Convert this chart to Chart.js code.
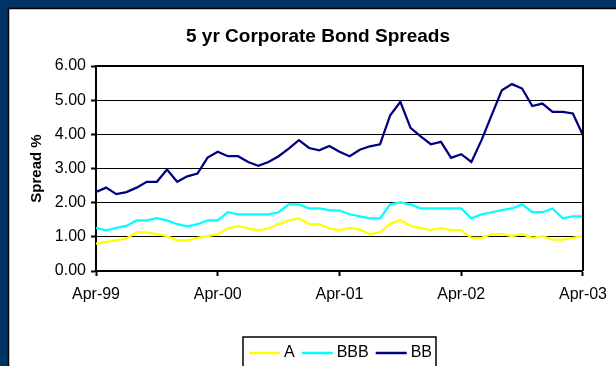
<!DOCTYPE html>
<html>
<head>
<meta charset="utf-8">
<style>
  html, body { margin: 0; padding: 0; background: #ffffff; }
  #wrap { position: relative; width: 616px; height: 366px; }
  canvas { display: block; }
</style>
<script src="https://cdn.jsdelivr.net/npm/chart.js@4.4.1/dist/chart.umd.min.js"></script>
</head>
<body>
<div id="wrap"><canvas id="c" width="616" height="366"></canvas></div>
<script>
// ---- data (monthly, Apr-99 .. Apr-03) ----
const months = [
  'Apr-99','May-99','Jun-99','Jul-99','Aug-99','Sep-99','Oct-99','Nov-99','Dec-99','Jan-00','Feb-00','Mar-00',
  'Apr-00','May-00','Jun-00','Jul-00','Aug-00','Sep-00','Oct-00','Nov-00','Dec-00','Jan-01','Feb-01','Mar-01',
  'Apr-01','May-01','Jun-01','Jul-01','Aug-01','Sep-01','Oct-01','Nov-01','Dec-01','Jan-02','Feb-02','Mar-02',
  'Apr-02','May-02','Jun-02','Jul-02','Aug-02','Sep-02','Oct-02','Nov-02','Dec-02','Jan-03','Feb-03','Mar-03',
  'Apr-03'
];
const xTickLabels = ['Apr-99','Apr-00','Apr-01','Apr-02','Apr-03'];
const yTickLabels = ['0.00','1.00','2.00','3.00','4.00','5.00','6.00'];
const seriesNames = ['A','BBB','BB'];

const spreadA = [
  0.80,0.85,0.90,0.95,1.13,1.13,1.08,1.02,0.90,0.90,0.97,1.02,
  1.08,1.25,1.31,1.25,1.19,1.25,1.37,1.48,1.54,1.37,1.37,1.25,
  1.20,1.26,1.21,1.08,1.14,1.38,1.49,1.32,1.26,1.20,1.26,1.20,
  1.20,0.97,0.97,1.08,1.08,1.02,1.08,0.97,1.02,0.92,0.92,0.97,
  1.02
];
const spreadBBB = [
  1.26,1.19,1.26,1.32,1.48,1.48,1.55,1.48,1.37,1.31,1.37,1.48,
  1.48,1.72,1.66,1.66,1.66,1.66,1.72,1.95,1.95,1.83,1.83,1.78,
  1.77,1.66,1.60,1.54,1.54,1.95,2.01,1.95,1.83,1.83,1.83,1.83,
  1.83,1.54,1.66,1.72,1.78,1.83,1.95,1.72,1.72,1.83,1.54,1.60,
  1.60
];
const spreadBB = [
  2.31,2.44,2.25,2.31,2.44,2.61,2.61,2.97,2.61,2.77,2.85,3.32,
  3.49,3.36,3.36,3.19,3.08,3.19,3.36,3.58,3.83,3.60,3.53,3.66,
  3.49,3.36,3.55,3.65,3.71,4.56,4.95,4.19,3.94,3.71,3.78,3.31,
  3.42,3.19,3.83,4.56,5.29,5.47,5.34,4.83,4.90,4.66,4.66,4.61,
  3.97
];

// ---- styles ----
const FONT = '"Liberation Sans", Arial, Helvetica, sans-serif';
const NAVY_FRAME = '#003366';
const colors = ['#FFFF00', '#00FFFF', '#000080'];

const framePlugin = {
  id: 'framePlugin',
  beforeDraw(chart) {
    const ctx = chart.ctx;
    ctx.save();
    ctx.fillStyle = NAVY_FRAME;
    ctx.fillRect(0, 0, 616, 366);
    ctx.fillStyle = '#ffffff';
    ctx.fillRect(9, 9, 607, 357);
    ctx.strokeStyle = '#000000';
    ctx.lineWidth = 1.5;
    ctx.beginPath();
    ctx.moveTo(8.5, 366);
    ctx.lineTo(8.5, 8.5);
    ctx.lineTo(616, 8.5);
    ctx.stroke();
    ctx.restore();
  },
  afterDraw(chart) {
    const ctx = chart.ctx;
    const a = chart.chartArea;
    ctx.save();
    // plot area top / right border
    ctx.strokeStyle = '#000000';
    ctx.lineWidth = 2;
    ctx.beginPath();
    ctx.moveTo(a.left, a.top);
    ctx.lineTo(a.right, a.top);
    ctx.lineTo(a.right, a.bottom);
    ctx.stroke();

    // title
    ctx.fillStyle = '#000000';
    ctx.font = 'bold 19px ' + FONT;
    ctx.textAlign = 'center';
    ctx.textBaseline = 'middle';
    ctx.fillText('5 yr Corporate Bond Spreads', 318, 37);

    // legend
    const bx = 243, by = 337, bw = 193, bh = 34;
    ctx.fillStyle = '#ffffff';
    ctx.fillRect(bx, by, bw, bh);
    ctx.strokeStyle = '#000000';
    ctx.lineWidth = 1.5;
    ctx.strokeRect(bx, by, bw, bh);
    ctx.font = '16px ' + FONT;
    ctx.textAlign = 'left';
    ctx.textBaseline = 'middle';
    const ly = 353;
    let x = 249;
    chart.data.datasets.forEach((ds) => {
      ctx.strokeStyle = ds.borderColor;
      ctx.lineWidth = 2.5;
      ctx.beginPath();
      ctx.moveTo(x, ly);
      ctx.lineTo(x + 31, ly);
      ctx.stroke();
      ctx.fillStyle = '#000000';
      ctx.fillText(ds.label, x + 35, ly);
      x += 35 + ctx.measureText(ds.label).width + 7;
    });
    ctx.restore();
  }
};

const datasets = [spreadA, spreadBBB, spreadBB].map((vals, i) => ({
  label: seriesNames[i],
  data: vals,
  borderColor: colors[i],
  backgroundColor: colors[i],
  borderWidth: 2.25,
  pointRadius: 0,
  tension: 0,
  fill: false
}));

new Chart(document.getElementById('c'), {
  type: 'line',
  data: { labels: months, datasets: datasets },
  options: {
    responsive: false,
    animation: false,
    devicePixelRatio: 1,
    layout: { padding: { left: 10, top: 66, right: 28, bottom: 0 } },
    plugins: {
      legend: { display: false },
      title: { display: false },
      tooltip: { enabled: false }
    },
    scales: {
      x: {
        type: 'category',
        offset: false,
        afterFit(scale) { scale.height = 95; },
        grid: {
          drawOnChartArea: false,
          drawTicks: true,
          tickLength: 5,
          tickWidth: 2,
          tickColor: (c) => (c.index % 12 === 0 ? '#000000' : 'rgba(0,0,0,0)')
        },
        border: { display: true, color: '#000000', width: 2 },
        ticks: {
          autoSkip: false,
          maxRotation: 0,
          minRotation: 0,
          padding: 9,
          color: '#000000',
          font: { family: FONT, size: 16 },
          callback: (v, i) => (i % 12 === 0 ? xTickLabels[i / 12] : '')
        }
      },
      y: {
        min: 0,
        max: 6,
        afterFit(scale) { scale.width = 86; },
        grid: {
          color: '#000000',
          lineWidth: 1,
          drawTicks: true,
          tickLength: 5,
          tickWidth: 2,
          tickColor: '#000000'
        },
        border: { display: true, color: '#000000', width: 2 },
        ticks: {
          stepSize: 1,
          padding: 5,
          color: '#000000',
          font: { family: FONT, size: 16 },
          callback: (v) => yTickLabels[Math.round(v)]
        },
        title: {
          display: true,
          text: 'Spread %',
          color: '#000000',
          font: { family: FONT, size: 15, weight: 'bold' },
          padding: { top: 18, bottom: 0 }
        }
      }
    }
  },
  plugins: [framePlugin]
});
</script>
</body>
</html>
